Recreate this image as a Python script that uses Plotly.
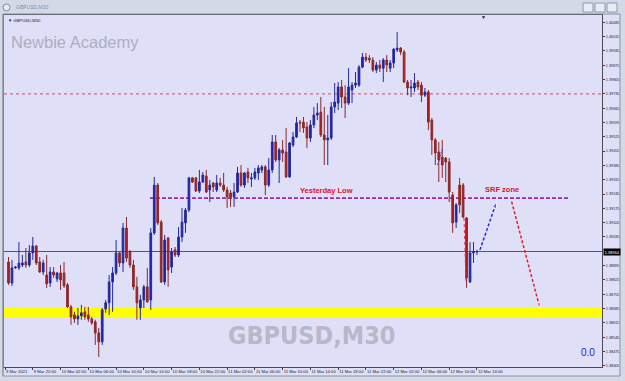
import plotly.graph_objects as go
import pandas as pd

# ---------------- data (GBPUSD M30) ----------------
bar_start = '2021-03-09 18:30'
n_bars = 136
times = pd.date_range(bar_start, periods=n_bars, freq='30min')

open_ = [1.38913, 1.38810, 1.38884, 1.38884, 1.38898, 1.38913, 1.38898, 1.38957, 1.38991, 1.38913,
         1.38864, 1.38849, 1.38810, 1.38864, 1.38830, 1.38859, 1.38859, 1.38801, 1.38693, 1.38654,
         1.38634, 1.38649, 1.38669, 1.38654, 1.38634, 1.38620, 1.38566, 1.38522, 1.38683, 1.38713,
         1.38815, 1.38859, 1.38957, 1.38908, 1.39079, 1.38962, 1.38898, 1.38791, 1.38688, 1.38727,
         1.38791, 1.38727, 1.39055, 1.39289, 1.39108, 1.38815, 1.39030, 1.38888, 1.38972, 1.38947,
         1.39035, 1.39104, 1.39167, 1.39324, 1.39324, 1.39260, 1.39304, 1.39333, 1.39265, 1.39299,
         1.39265, 1.39299, 1.39289, 1.39265, 1.39250, 1.39231, 1.39255, 1.39348, 1.39289, 1.39353,
         1.39319, 1.39324, 1.39348, 1.39363, 1.39378, 1.39289, 1.39363, 1.39500, 1.39412, 1.39461,
         1.39451, 1.39329, 1.39485, 1.39524, 1.39597, 1.39597, 1.39573, 1.39519, 1.39583, 1.39632,
         1.39646, 1.39534, 1.39510, 1.39519, 1.39671, 1.39690, 1.39769, 1.39720, 1.39690, 1.39754,
         1.39778, 1.39778, 1.39866, 1.39915, 1.39910, 1.39901, 1.39852, 1.39876, 1.39861, 1.39901,
         1.39861, 1.39886, 1.39950, 1.39959, 1.39940, 1.39793, 1.39764, 1.39764, 1.39793, 1.39778,
         1.39729, 1.39744, 1.39607, 1.39510, 1.39451, 1.39426, 1.39421, 1.39402, 1.39240, 1.39108,
         1.39289, 1.39289, 1.39128, 1.38815, 1.38957, 1.38962]
high = [1.38937, 1.38923, 1.38893, 1.39010, 1.38947, 1.38981, 1.38996, 1.39035, 1.38996, 1.38937,
        1.38923, 1.38947, 1.38888, 1.38888, 1.38864, 1.38898, 1.38913, 1.38810, 1.38703, 1.38669,
        1.38688, 1.38703, 1.38693, 1.38693, 1.38644, 1.38630, 1.38590, 1.38688, 1.38727, 1.38849,
        1.38888, 1.39020, 1.38962, 1.39104, 1.39133, 1.38972, 1.38923, 1.38840, 1.38752, 1.38801,
        1.38884, 1.39079, 1.39329, 1.39299, 1.39118, 1.39045, 1.39035, 1.38981, 1.38986, 1.39084,
        1.39177, 1.39177, 1.39329, 1.39329, 1.39329, 1.39363, 1.39353, 1.39363, 1.39314, 1.39304,
        1.39338, 1.39324, 1.39348, 1.39280, 1.39265, 1.39299, 1.39378, 1.39387, 1.39353, 1.39373,
        1.39348, 1.39373, 1.39387, 1.39387, 1.39387, 1.39421, 1.39534, 1.39534, 1.39470, 1.39510,
        1.39568, 1.39500, 1.39549, 1.39622, 1.39607, 1.39622, 1.39597, 1.39607, 1.39671, 1.39690,
        1.39720, 1.39671, 1.39632, 1.39695, 1.39788, 1.39793, 1.39803, 1.39778, 1.39861, 1.39793,
        1.39842, 1.39876, 1.39935, 1.39935, 1.39925, 1.39915, 1.39891, 1.39901, 1.39910, 1.39925,
        1.39901, 1.39959, 1.40038, 1.39964, 1.39950, 1.39803, 1.39803, 1.39837, 1.39803, 1.39793,
        1.39764, 1.39754, 1.39617, 1.39519, 1.39500, 1.39510, 1.39426, 1.39421, 1.39255, 1.39201,
        1.39324, 1.39299, 1.39133, 1.39010, 1.39010, 1.38972]
low = [1.38801, 1.38796, 1.38879, 1.38874, 1.38888, 1.38884, 1.38888, 1.38923, 1.38898, 1.38859,
       1.38849, 1.38786, 1.38791, 1.38835, 1.38815, 1.38776, 1.38786, 1.38688, 1.38605, 1.38615,
       1.38605, 1.38630, 1.38630, 1.38620, 1.38605, 1.38507, 1.38448, 1.38507, 1.38664, 1.38654,
       1.38669, 1.38849, 1.38888, 1.38864, 1.38913, 1.38884, 1.38776, 1.38630, 1.38630, 1.38688,
       1.38713, 1.38678, 1.39045, 1.39094, 1.38810, 1.38801, 1.38791, 1.38859, 1.38937, 1.38937,
       1.39010, 1.39055, 1.39157, 1.39299, 1.39255, 1.39250, 1.39299, 1.39250, 1.39206, 1.39255,
       1.39255, 1.39280, 1.39255, 1.39177, 1.39182, 1.39182, 1.39250, 1.39280, 1.39275, 1.39299,
       1.39280, 1.39314, 1.39314, 1.39348, 1.39240, 1.39280, 1.39348, 1.39402, 1.39299, 1.39402,
       1.39324, 1.39324, 1.39475, 1.39519, 1.39549, 1.39544, 1.39470, 1.39500, 1.39568, 1.39607,
       1.39524, 1.39387, 1.39387, 1.39510, 1.39641, 1.39656, 1.39666, 1.39617, 1.39681, 1.39690,
       1.39764, 1.39769, 1.39861, 1.39891, 1.39886, 1.39842, 1.39837, 1.39842, 1.39793, 1.39842,
       1.39842, 1.39861, 1.39940, 1.39925, 1.39788, 1.39729, 1.39720, 1.39744, 1.39754, 1.39695,
       1.39720, 1.39558, 1.39436, 1.39387, 1.39304, 1.39324, 1.39304, 1.39206, 1.39055, 1.39079,
       1.39152, 1.39128, 1.38786, 1.38810, 1.38908, 1.38947]
close = [1.38810, 1.38884, 1.38888, 1.38908, 1.38908, 1.38898, 1.38957, 1.38991, 1.38908, 1.38864,
         1.38908, 1.38806, 1.38864, 1.38849, 1.38859, 1.38825, 1.38796, 1.38693, 1.38644, 1.38634,
         1.38649, 1.38664, 1.38644, 1.38634, 1.38615, 1.38566, 1.38522, 1.38678, 1.38713, 1.38815,
         1.38859, 1.38957, 1.38908, 1.39079, 1.38932, 1.38898, 1.38791, 1.38713, 1.38727, 1.38791,
         1.38718, 1.39055, 1.39289, 1.39104, 1.38815, 1.39020, 1.38874, 1.38962, 1.38947, 1.39035,
         1.39108, 1.39167, 1.39324, 1.39304, 1.39260, 1.39304, 1.39338, 1.39255, 1.39289, 1.39280,
         1.39299, 1.39289, 1.39265, 1.39231, 1.39231, 1.39255, 1.39348, 1.39289, 1.39348, 1.39324,
         1.39324, 1.39353, 1.39373, 1.39378, 1.39289, 1.39363, 1.39500, 1.39412, 1.39461, 1.39446,
         1.39329, 1.39495, 1.39524, 1.39593, 1.39593, 1.39568, 1.39519, 1.39583, 1.39632, 1.39641,
         1.39534, 1.39510, 1.39519, 1.39671, 1.39695, 1.39769, 1.39720, 1.39690, 1.39769, 1.39778,
         1.39788, 1.39866, 1.39915, 1.39901, 1.39901, 1.39852, 1.39876, 1.39861, 1.39901, 1.39876,
         1.39886, 1.39954, 1.39959, 1.39940, 1.39793, 1.39764, 1.39769, 1.39788, 1.39769, 1.39729,
         1.39744, 1.39597, 1.39510, 1.39446, 1.39412, 1.39387, 1.39402, 1.39255, 1.39104, 1.39192,
         1.39192, 1.39133, 1.38835, 1.38957, 1.38962, 1.38964]

x_tick_times = ['2021-03-09 18:00', '2021-03-09 22:00', '2021-03-10 02:00', '2021-03-10 06:00',
                '2021-03-10 10:00', '2021-03-10 14:00', '2021-03-10 18:00', '2021-03-10 22:00',
                '2021-03-11 02:00', '2021-03-11 06:00', '2021-03-11 10:00', '2021-03-11 14:00',
                '2021-03-11 18:00', '2021-03-11 22:00', '2021-03-12 02:00', '2021-03-12 06:00',
                '2021-03-12 10:00', '2021-03-12 14:00']
x_tick_text = ['9 Mar 2021', '9 Mar 22:00', '10 Mar 02:00', '10 Mar 06:00', '10 Mar 10:00',
               '10 Mar 14:00', '10 Mar 18:00', '10 Mar 22:00', '11 Mar 02:00', '11 Mar 06:00',
               '11 Mar 10:00', '11 Mar 14:00', '11 Mar 18:00', '11 Mar 22:00', '12 Mar 02:00',
               '12 Mar 06:00', '12 Mar 10:00', '12 Mar 14:00']
y_tick_vals = [1.40085, 1.40015, 1.39945, 1.39875, 1.39805, 1.39735, 1.39665, 1.39595, 1.39525,
               1.39455, 1.39385, 1.39315, 1.39245, 1.39175, 1.39105, 1.39035, 1.38895, 1.38825,
               1.38755, 1.38685, 1.38615, 1.38545, 1.38475, 1.38405]
y_tick_text = ['%.5f' % v for v in y_tick_vals]

red_level = 1.39735
yesterday_low = 1.39225
yesterday_low_span = ['2021-03-10 14:53', '2021-03-13 03:24']
current_price = 1.38964
zone_low, zone_high = 1.38640, 1.38690

blue_arrow_x = ['2021-03-12 14:26', '2021-03-12 16:50']
blue_arrow_y = [1.38972, 1.39208]
red_arrow_x = ['2021-03-12 19:00', '2021-03-12 23:05']
red_arrow_y = [1.39208, 1.38686]
small_blue_x = ['2021-03-12 08:20', '2021-03-12 09:03']
small_blue_y = [1.39387, 1.39470]
red_vert_x = ['2021-03-12 12:08', '2021-03-12 12:25']
red_vert_y = [1.39128, 1.38815]

x_range = ['2021-03-09 17:51', '2021-03-13 08:01']
y_range = [1.38399, 1.40121]

# ---------------- figure ----------------
W, H = 625, 381
BG = '#dfdff7'
FRAME = '#d3dae6'

def px(v):
    return v / W

def py(v):
    return (H - v) / H

fig = go.Figure()

fig.add_trace(go.Candlestick(
    x=times, open=open_, high=high, low=low, close=close,
    increasing=dict(line=dict(color='#262a98', width=1), fillcolor='#1c22b8'),
    decreasing=dict(line=dict(color='#8a2828', width=1), fillcolor='#bb1a1a'),
    whiskerwidth=0, showlegend=False, hoverinfo='skip'))

fig.add_trace(go.Scatter(x=blue_arrow_x, y=blue_arrow_y, mode='lines+markers',
                         line=dict(color='#2a2ad8', width=1.5, dash='3px,2px'),
                         marker=dict(symbol=['circle', 'arrow'], size=[0, 7], angleref='previous',
                                     color='#2a2ad8'),
                         showlegend=False, hoverinfo='skip'))
fig.add_trace(go.Scatter(x=red_arrow_x, y=red_arrow_y, mode='lines+markers',
                         line=dict(color='#e0202a', width=1.5, dash='3px,2px'),
                         marker=dict(symbol=['circle', 'arrow'], size=[0, 6], angleref='previous',
                                     color='#e0202a'),
                         showlegend=False, hoverinfo='skip'))
fig.add_trace(go.Scatter(x=small_blue_x, y=small_blue_y, mode='lines',
                         line=dict(color='#3a3ad8', width=1, dash='2px,1px'),
                         showlegend=False, hoverinfo='skip'))
fig.add_trace(go.Scatter(x=red_vert_x, y=red_vert_y, mode='lines',
                         line=dict(color='#e0304a', width=1, dash='dot'),
                         showlegend=False, hoverinfo='skip'))

shapes = [
    # support zone
    dict(type='rect', xref='x domain', x0=0, x1=1, yref='y', y0=zone_low, y1=zone_high,
         fillcolor='#ffff00', line=dict(width=0), layer='below'),
    # red dotted level
    dict(type='line', xref='x domain', x0=0, x1=1, yref='y', y0=red_level, y1=red_level,
         line=dict(color='#d8486a', width=1, dash='dot'), layer='below'),
    # current price line
    dict(type='line', xref='x domain', x0=0, x1=1, yref='y', y0=current_price, y1=current_price,
         line=dict(color='#4848c8', width=1), layer='below'),
    # yesterday low
    dict(type='line', xref='x', x0=yesterday_low_span[0], x1=yesterday_low_span[1], yref='y',
         y0=yesterday_low, y1=yesterday_low, line=dict(color='#9a2aa6', width=1.6, dash='4px,2px'),
         layer='below'),
    # window frame
    dict(type='rect', xref='paper', yref='paper', x0=0, x1=1, y0=py(14), y1=1,
         fillcolor=FRAME, line=dict(width=0)),
    dict(type='rect', xref='paper', yref='paper', x0=0, x1=px(3.5), y0=0, y1=1,
         fillcolor=FRAME, line=dict(width=0)),
    dict(type='rect', xref='paper', yref='paper', x0=px(620), x1=1, y0=0, y1=1,
         fillcolor=FRAME, line=dict(width=0)),
    dict(type='rect', xref='paper', yref='paper', x0=0, x1=1, y0=0, y1=py(376),
         fillcolor=FRAME, line=dict(width=0)),
    dict(type='line', xref='paper', yref='paper', x0=px(3), x1=px(3), y0=py(376), y1=py(14),
         line=dict(color='#6a7280', width=1)),
    dict(type='line', xref='paper', yref='paper', x0=px(3), x1=px(620), y0=py(14), y1=py(14),
         line=dict(color='#8a92a0', width=1)),
    dict(type='line', xref='paper', yref='paper', x0=px(3), x1=px(620), y0=py(376), y1=py(376),
         line=dict(color='#8a92a0', width=1)),
    dict(type='line', xref='paper', yref='paper', x0=px(620), x1=px(620), y0=py(376), y1=py(14),
         line=dict(color='#8a92a0', width=1)),
]
for bx in (583, 595, 607):
    shapes.append(dict(type='rect', xref='paper', yref='paper', x0=px(bx), x1=px(bx + 10),
                       y0=py(12), y1=py(3), fillcolor='#e9edf3', line=dict(color='#8c98ac', width=1)))
shapes.append(dict(type='circle', xref='paper', yref='paper', x0=px(3), x1=px(10), y0=py(11), y1=py(4),
                   fillcolor='#e9edf3', line=dict(color='#7a8aa6', width=1)))

annotations = [
    dict(text='GBPUSD,M30', xref='paper', yref='paper', x=px(14), y=py(7.5), xanchor='left',
         yanchor='middle', showarrow=False, font=dict(size=5, color='#8090a8', family='Liberation Sans')),
    dict(text='▼ GBPUSD,M30', xref='paper', yref='paper', x=px(6), y=py(20), xanchor='left',
         yanchor='middle', showarrow=False, font=dict(size=4.2, color='#202030', family='Liberation Sans')),
    dict(text='Newbie Academy', xref='paper', yref='paper', x=px(9), y=py(42), xanchor='left',
         yanchor='middle', showarrow=False, font=dict(size=16.5, color='#adadbf', family='Liberation Sans')),
    dict(text='<b>GBPUSD,M30</b>', xref='paper', yref='paper', x=px(311), y=py(335), xanchor='center',
         yanchor='middle', showarrow=False,
         font=dict(size=25, color='#b8b8c8', family='DejaVu Sans Condensed, Liberation Sans Narrow, sans-serif')),
    dict(text='0.0', xref='paper', yref='paper', x=px(588), y=py(352), xanchor='center',
         yanchor='middle', showarrow=False, font=dict(size=10, color='#1c1cc8', family='Liberation Sans')),
    dict(text='<b>Yesterday Low</b>', xref='x', yref='y', x='2021-03-11 16:15', y=yesterday_low,
         xanchor='center', yanchor='bottom', yshift=1, showarrow=False,
         font=dict(size=7.5, color='#e0102a', family='Liberation Sans')),
    dict(text='<b>SRF zone</b>', xref='x', yref='y', x='2021-03-12 17:36', y=yesterday_low,
         xanchor='center', yanchor='bottom', yshift=2, showarrow=False,
         font=dict(size=7.5, color='#e0102a', family='Liberation Sans')),
    dict(text='▼', xref='paper', yref='paper', x=px(483), y=py(17.5), xanchor='center',
         yanchor='middle', showarrow=False, font=dict(size=5, color='#101018')),
    dict(text='%.5f' % current_price, xref='paper', yref='y', x=px(603), y=current_price,
         xanchor='left', yanchor='middle', showarrow=False, bgcolor='#000000', borderpad=0.5,
         font=dict(size=4, color='#ffffff', family='Liberation Sans')),
]

fig.update_layout(
    width=W, height=H, margin=dict(l=0, r=0, t=0, b=0, autoexpand=False),
    paper_bgcolor=BG, plot_bgcolor=BG,
    shapes=shapes, annotations=annotations, showlegend=False,
    xaxis=dict(type='date', domain=[px(4), px(602)], range=x_range, rangeslider=dict(visible=False),
               tickvals=x_tick_times, ticktext=x_tick_text, ticklabelposition='outside right',
               tickangle=0, automargin=False,
               ticks='outside', ticklen=2, tickcolor='#404050',
               tickfont=dict(size=4.2, color='#202030', family='Liberation Sans'),
               showgrid=False, zeroline=False, showline=True, linecolor='#4a4a58', linewidth=1,
               mirror=True, fixedrange=True),
    yaxis=dict(domain=[py(367), py(15)], range=y_range, side='right', automargin=False,
               tickvals=y_tick_vals, ticktext=y_tick_text, ticks='outside', ticklen=2,
               tickcolor='#404050', tickfont=dict(size=3.8, color='#202030', family='Liberation Sans'),
               showgrid=False, zeroline=False, showline=True, linecolor='#4a4a58', linewidth=1,
               mirror=True, fixedrange=True),
)

fig.write_html('out.html')
